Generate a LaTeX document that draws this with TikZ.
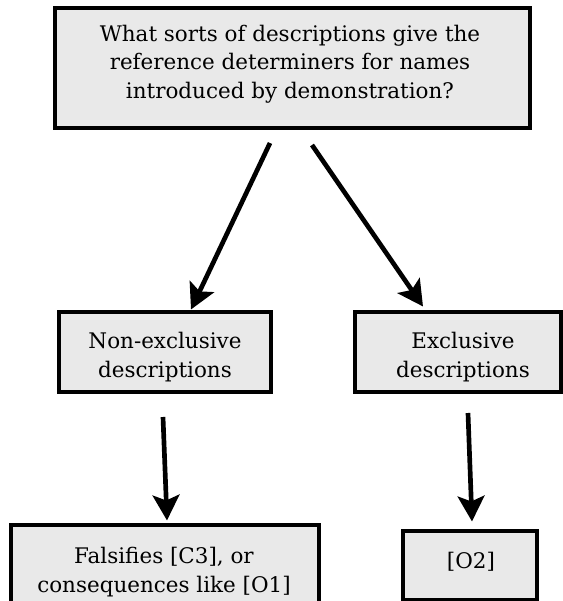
\documentclass[tikz,border=0pt]{standalone}
\usepackage{fontspec}
\setmainfont{DejaVu Serif}
\usetikzlibrary{arrows.meta,calc}
\definecolor{boxfill}{HTML}{E9E9E9}
\tikzset{
  box/.style={draw=black, line width=2.3pt, fill=boxfill, rectangle, inner sep=0pt},
  txt/.style={align=center, inner sep=0pt, font=\fontsize{16.1}{21.2}\selectfont},
  arr/.style={line width=3.5pt, -{Stealth[length=19pt,width=20pt,inset=4pt]}}
}
\begin{document}
\begin{tikzpicture}[x=0.75pt,y=-0.75pt]
\useasboundingbox (0,0) rectangle (563,601);
\clip (0,0) rectangle (563,601);
% boxes
\node[box, minimum width=356.25pt, minimum height=90pt] (top) at (292.5,68) {};
\node[box, minimum width=159pt, minimum height=60pt] (m1) at (165,352) {};
\node[box, minimum width=154.5pt, minimum height=60pt] (m2) at (458,352) {};
\node[box, minimum width=231pt, minimum height=67.5pt] (b1) at (165,570) {};
\node[box, minimum width=100.5pt, minimum height=51.75pt] (b2) at (470,565.5) {};
% texts
\node[txt] (ttop) at (290,64) {What sorts of descriptions give the\\reference determiners for names\\introduced by demonstration?};
\node[txt] (tm1) at (165,357) {Non-exclusive\\descriptions};
\node[txt] (tm2) at (463,357) {Exclusive\\descriptions};
\node[txt] (tb1) at (164,572) {Falsifies [C3], or\\consequences like [O1]};
\node[txt] (tb2) at (471,562) {[O2]};
% arrow start points
\coordinate (s1) at (270,143);
\coordinate (s2) at (312,145);
\coordinate (s3) at (163,417);
\coordinate (s4) at (468,413);
% connectors
\draw[arr] (s1) -- ($(m1.north)+(26,-1)$);
\draw[arr] (s2) -- ($(m2.north)+(-35,-4)$);
\draw[arr] (s3) -- ($(b1.north)+(2,-3)$);
\draw[arr] (s4) -- ($(b2.north)+(2,-8)$);
\end{tikzpicture}
\end{document}
